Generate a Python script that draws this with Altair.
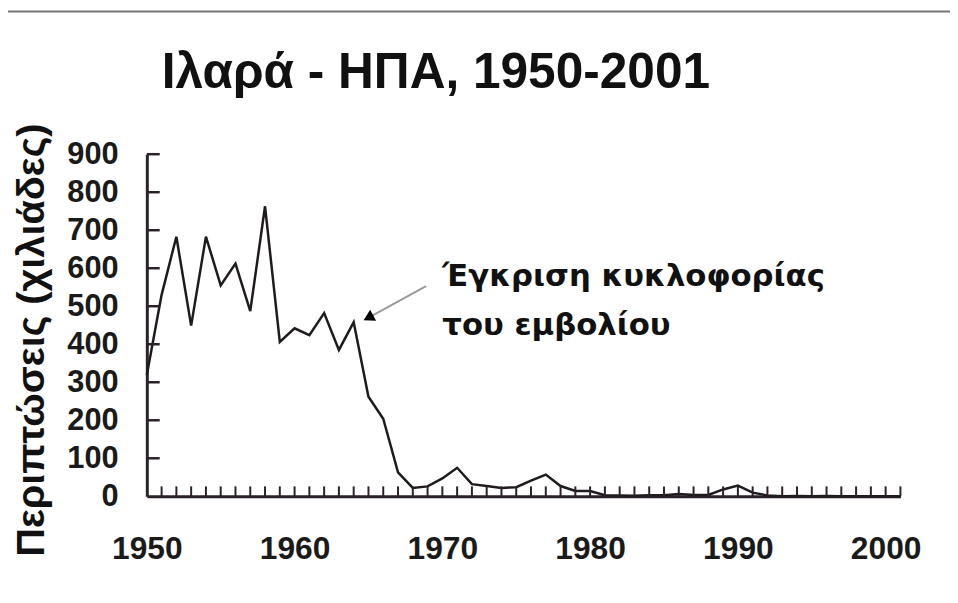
import altair as alt
import pandas as pd

# ---- data (thousands of cases) ----
years = list(range(1950, 2002))
cases = [319, 530, 683, 449, 683, 555, 612, 487, 763, 406,
         442, 424, 482, 385, 458, 262, 204, 63, 22, 26,
         47, 75, 32, 27, 22, 24, 41, 57, 27, 14,
         14, 3, 2, 1.5, 2.6, 2.8, 6.3, 3.7, 3.4, 18,
         28, 9.6, 2.2, 0.3, 1.0, 0.3, 0.5, 0.1, 0.1, 0.1,
         0.1, 0.1]
y_labels = [0, 100, 200, 300, 400, 500, 600, 700, 800, 900]
y_minor = [100, 200, 300, 400, 500, 600, 700, 800, 900]
x_labels = [1950, 1960, 1970, 1980, 1990, 2000]
x_minor = list(range(1951, 2002))
title_text = "Ιλαρά - ΗΠΑ, 1950-2001"
y_title = "Περιπτώσεις (χιλιάδες)"
note_text = "Έγκριση κυκλοφορίας\nτου εμβολίου"
note_x = [1970.0]
note_y = [553]
arrow_x = [1968.9, 1965.1]
arrow_y = [553, 472]

AX = "#2b2128"
FONT = "Liberation Sans"

df = pd.DataFrame({"year": years, "cases": cases})
xs = alt.Scale(domain=[1950, 2001], nice=False, zero=False)
ys = alt.Scale(domain=[0, 900], nice=False)

xa = alt.Axis(values=x_labels, format="d", ticks=False, grid=False, title=None,
              domainColor=AX, domainWidth=3, labelFont=FONT,
              labelFontSize=32, labelFontWeight="bold", labelColor="#1a1a1a",
              labelPadding=38, labelFlush=False, labelOverlap=False)
ya = alt.Axis(values=y_labels, ticks=False, grid=False,
              domainColor=AX, domainWidth=3, labelFont=FONT,
              labelFontSize=31, labelFontWeight="bold", labelColor="#1a1a1a",
              labelPadding=29, labelFlush=False, labelOverlap=False,
              title=y_title, titleFont=FONT, titleFontSize=40,
              titleFontWeight="bold", titleColor="#111111",
              titleAngle=270, titleX=-116, titleY=187,
              titleAlign="center", titleBaseline="middle")


def X(f):
    return alt.X(f, scale=xs, axis=xa)


def Y(f):
    return alt.Y(f, scale=ys, axis=ya)


line = alt.Chart(df).mark_line(color="#1e1a1e", strokeWidth=2.5).encode(
    x=X("year:Q"), y=Y("cases:Q"))

ytick = alt.Chart(pd.DataFrame({"v": y_minor})).mark_rule(color=AX, strokeWidth=2.5).encode(
    y=Y("v:Q"), x=alt.value(0), x2=alt.value(13))

xtick = alt.Chart(pd.DataFrame({"yr": x_minor})).mark_rule(color=AX, strokeWidth=2).encode(
    x=X("yr:Q"), y=alt.value(335), y2=alt.value(345))

arrow = alt.Chart(pd.DataFrame({"x": arrow_x, "y": arrow_y, "o": [0, 1]})).mark_line(
    color="#9a9a9a", strokeWidth=2).encode(x=X("x:Q"), y=Y("y:Q"), order="o:O")

head = alt.Chart(pd.DataFrame({"x": [arrow_x[1]], "y": [arrow_y[1]]})).mark_point(
    shape="triangle", angle=242, size=160, filled=True, color="#000000", opacity=1).encode(
    x=X("x:Q"), y=Y("y:Q"))

note = alt.Chart(pd.DataFrame({"x": note_x, "y": note_y, "t": [note_text]})).mark_text(
    align="left", baseline="alphabetic", font="DejaVu Sans", fontSize=31,
    fontWeight="bold", color="#111111", lineBreak="\n", lineHeight=49).encode(
    x=X("x:Q"), y=Y("y:Q"), text="t:N")

title = alt.Chart(pd.DataFrame({"t": [title_text]})).mark_text(
    align="left", baseline="alphabetic", font=FONT, fontSize=50, fontWeight="bold",
    color="#111111").encode(x=alt.value(15), y=alt.value(-67), text="t:N")

topline = alt.Chart(pd.DataFrame({"a": [0]})).mark_rule(color="#777777", strokeWidth=2).encode(
    x=alt.value(-140), x2=alt.value(810), y=alt.value(-144))

chart = alt.layer(line, ytick, xtick, arrow, head, note, title, topline).properties(
    width=760, height=345,
    padding={"left": 140, "top": 145, "right": 50, "bottom": 85},
    autosize=alt.AutoSizeParams(type="none"),
).configure_view(stroke=None)

chart.save("out.html", embed_options={"renderer": "svg", "actions": False})
